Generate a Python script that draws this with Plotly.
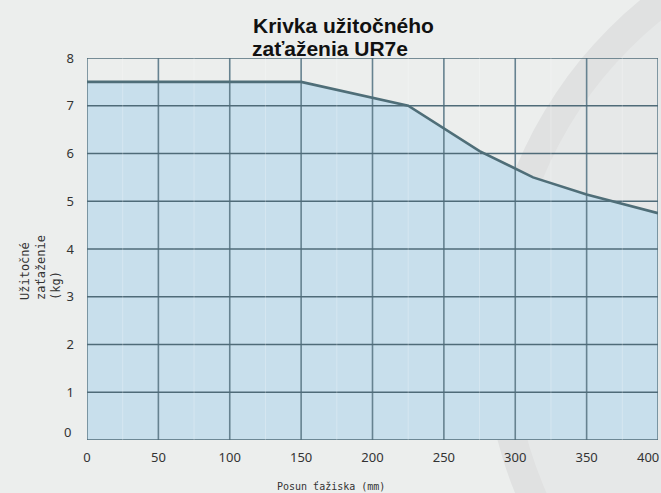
import plotly.graph_objects as go

# ---- data ----
x_pos = [0, 150, 225, 275, 312.5, 350, 400]          # Posun ťažiska (mm)
payload = [7.5, 7.5, 7.0, 6.05, 5.5, 5.14, 4.75]     # Užitočné zaťaženie (kg)
x_ticks = [0, 50, 100, 150, 200, 250, 300, 350, 400]
y_ticks = [0, 1, 2, 3, 4, 5, 6, 7, 8]
x_minor = [25, 75, 125, 175, 225, 275, 325, 375]

title_lines = ["Krivka užitočného", "zaťaženia UR7e"]
x_title = "Posun ťažiska (mm)"
y_title = "Užitočné<br>zaťaženie<br>(kg)"

W, H = 661, 493
L, R, T, B = 87, 3, 58, 53
PW, PH = W - L - R, H - T - B
TICK_FONT = dict(family="Noto Sans", size=13, color="#333")
TITLE_FONT = dict(family="Liberation Sans", size=21, color="#111", weight="bold")


def px(xp):
    return (xp - L) / PW


def py(yp):
    return (H - B - yp) / PH


fig = go.Figure()

# filled area
fig.add_trace(go.Scatter(x=x_pos, y=payload, mode="lines", fill="tozeroy",
                         fillcolor="#c8dfec", line=dict(width=0, color="#c8dfec"),
                         hoverinfo="skip", showlegend=False))

# grid lines (drawn above the fill)
gx, gy = [], []
for v in x_ticks:
    gx += [v, v, None]
    gy += [y_ticks[0], y_ticks[-1], None]
fig.add_trace(go.Scatter(x=gx, y=gy, mode="lines", line=dict(color="#668290", width=1.6),
                         hoverinfo="skip", showlegend=False))
hx, hy = [], []
for v in y_ticks:
    hx += [x_ticks[0], x_ticks[-1], None]
    hy += [v, v, None]
fig.add_trace(go.Scatter(x=hx, y=hy, mode="lines", line=dict(color="#4f6b78", width=1.6),
                         hoverinfo="skip", showlegend=False))
mx, my = [], []
for v in x_minor:
    mx += [v, v, None]
    my += [y_ticks[0], y_ticks[-1], None]
fig.add_trace(go.Scatter(x=mx, y=my, mode="lines", line=dict(color="rgba(255,255,255,0.25)", width=1),
                         hoverinfo="skip", showlegend=False))

# data line
fig.add_trace(go.Scatter(x=x_pos, y=payload, mode="lines",
                         line=dict(color="#4f6e78", width=2.6),
                         hoverinfo="skip", showlegend=False))

# decorative background arc
cx, cy, r_out, r_in = 912.5, 331.5, 429, 400
fig.add_shape(type="circle", xref="paper", yref="paper", layer="below",
              x0=px(cx - r_out), x1=px(cx + r_out), y0=py(cy + r_out), y1=py(cy - r_out),
              fillcolor="#e0e1e1", line=dict(width=0))
fig.add_shape(type="circle", xref="paper", yref="paper", layer="below",
              x0=px(cx - r_in), x1=px(cx + r_in), y0=py(cy + r_in), y1=py(cy - r_in),
              fillcolor="#e6e8e8", line=dict(width=0))

# second title line (tighter line spacing than plotly's default)
fig.add_annotation(text=title_lines[1], xref="paper", yref="paper", x=px(250), y=py(57),
                   xanchor="left", yanchor="bottom", yshift=-5, showarrow=False,
                   font=TITLE_FONT)

# end tick labels nudged inward like the reference
fig.add_annotation(text=str(x_ticks[-1]), xref="x", yref="paper", x=x_ticks[-1], y=0,
                   xanchor="right", yanchor="middle", xshift=3, yshift=-17,
                   showarrow=False, font=TICK_FONT)
fig.add_annotation(text=str(y_ticks[0]), xref="paper", yref="y", x=0, y=y_ticks[0],
                   xanchor="right", yanchor="middle", xshift=-14, yshift=8,
                   showarrow=False, font=TICK_FONT)

# axis titles
fig.add_annotation(text=x_title, xref="paper", yref="paper", x=px(330.5), y=py(486),
                   xanchor="center", yanchor="middle", showarrow=False,
                   font=dict(family="DejaVu Sans Mono", size=10, color="#333"))
fig.add_annotation(text=y_title, xref="paper", yref="paper", x=px(40), y=py(268),
                   xanchor="center", yanchor="middle", showarrow=False, textangle=-90,
                   align="left", font=dict(family="DejaVu Sans Mono", size=12, color="#333"))

fig.update_layout(
    width=W, height=H,
    margin=dict(l=L, r=R, t=T, b=B),
    paper_bgcolor="#eceeed", plot_bgcolor="rgba(0,0,0,0)",
    title=dict(text=title_lines[0], xref="container", yref="container",
               x=253 / W, xanchor="left", y=1 - 18 / H, yanchor="top",
               font=TITLE_FONT),
    xaxis=dict(range=[x_ticks[0], x_ticks[-1]], tickvals=x_ticks[:-1], showgrid=False,
               zeroline=False, showline=False, ticks="", ticklabelstandoff=8,
               tickfont=TICK_FONT),
    yaxis=dict(range=[y_ticks[0], y_ticks[-1]], tickvals=y_ticks[1:], showgrid=False,
               zeroline=False, showline=False, ticks="", ticklabelstandoff=12,
               tickfont=TICK_FONT),
)

fig.write_html("out.html", config={"displayModeBar": False},
               post_script="document.body.style.margin='0';document.body.style.overflow='hidden';")
